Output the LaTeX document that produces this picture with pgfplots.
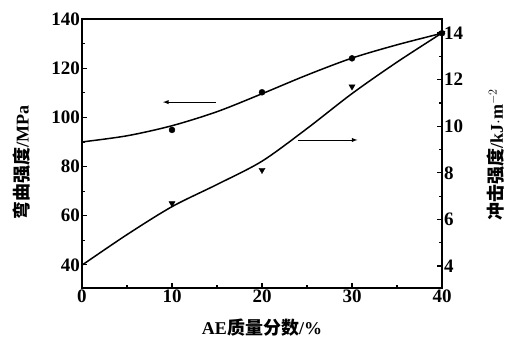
\documentclass[border=0pt]{standalone}
\usepackage{pgfplots}
\pgfplotsset{compat=1.18}
\usepackage{fontspec}
\setmainfont{Liberation Serif}
\newfontfamily\cjk{Noto Sans CJK SC}
\newcommand{\lblfont}{\fontsize{18}{18}\selectfont\bfseries}
\begin{document}
\begin{tikzpicture}
\path[use as bounding box] (-82pt,-54pt) rectangle (426pt,288pt);
\pgfplotsset{
  common/.style={
    scale only axis, width=360pt, height=269pt,
    at={(0,0)}, anchor=south west,
    xmin=0, xmax=40, clip=false,
    tick align=inside,
    major tick length=5pt, minor tick length=3pt,
    axis line style={line width=1.8pt},
    every tick/.style={black, line width=1.2pt},
    ticklabel style={font=\fontsize{19}{19}\selectfont\bfseries, inner sep=2pt},
    /pgf/number format/assume math mode=true,
  }
}
\begin{axis}[common,
  ymin=30.6, ymax=140,
  xtick={0,10,20,30,40}, ytick={40,60,80,100,120,140},
  minor x tick num=1, minor y tick num=1,
  xtick pos=bottom, ytick pos=left,
  xlabel={\lblfont AE{\cjk\bfseries 质量分数}/\%},
  xlabel style={at={(axis description cs:0.5,-0.149)}, anchor=center},
  ylabel={\lblfont{\cjk\bfseries 弯曲强度}/MPa},
  ylabel style={at={(axis description cs:-0.167,0.465)}, anchor=center},
]
\addplot[smooth, line width=1.5pt, black] coordinates {
 (0,90) (5,92.5) (10,96.6) (15,102.3) (20,109.6) (25,117.2) (30,124.1) (35,129.5) (40,134.2)};
\addplot[only marks, mark=*, mark size=3pt, black] coordinates {
 (10,94.9) (20,110.2) (30,124) (40,134.2)};
\draw[-latex, line width=0.9pt] (axis cs:14.9,106.2) -- (axis cs:9.0,106.2);
\draw[-latex, line width=0.9pt] (axis cs:24.0,90.8) -- (axis cs:30.6,90.8);
\end{axis}
\begin{axis}[common,
  ymin=3.06, ymax=14.6,
  axis x line=none, axis y line*=right,
  ytick={4,6,8,10,12,14}, minor y tick num=1,
  ylabel={\lblfont{\cjk\bfseries 冲击强度}/kJ$\cdot$m$^{-2}$},
  ylabel style={at={(axis description cs:1.15,0.495)}, anchor=center},
]
\addplot[smooth, line width=1.5pt, black] coordinates {
 (0,4.04) (5,5.35) (10,6.55) (15,7.5) (20,8.5) (25,9.9) (30,11.4) (35,12.75) (40,14)};
\addplot[only marks, mark=triangle*, mark options={rotate=180}, mark size=3.5pt, black] coordinates {
 (10,6.69) (20,8.12) (30,11.7) (40,14)};
\end{axis}
\end{tikzpicture}
\end{document}
